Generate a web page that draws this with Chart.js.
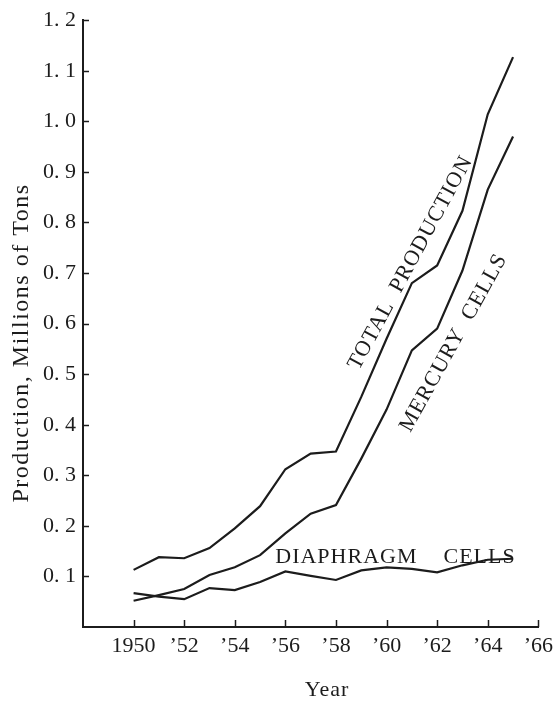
<!DOCTYPE html>
<html>
<head>
<meta charset="utf-8">
<script src="https://cdn.jsdelivr.net/npm/chart.js@4/dist/chart.umd.min.js"></script>
<style>
    html, body { margin: 0; padding: 0; background: #fff; }
    #wrap { width: 559px; height: 704px; position: relative; }
</style>
</head>
<body>
<div id="wrap"><canvas id="chart"></canvas></div>
<script>
// ─── DATA ─────────────────────────────────────────────────────────────────────
const years = [1950, 1951, 1952, 1953, 1954, 1955, 1956, 1957, 1958, 1959, 1960, 1961, 1962, 1963, 1964, 1965];
const totalProduction = [0.113, 0.138, 0.136, 0.156, 0.195, 0.239, 0.312, 0.343, 0.347, 0.455, 0.570, 0.680, 0.715, 0.823, 1.014, 1.127];
const mercuryCells = [0.052, 0.063, 0.075, 0.103, 0.118, 0.142, 0.185, 0.224, 0.241, 0.333, 0.430, 0.547, 0.590, 0.705, 0.865, 0.970];
const diaphragmCells = [0.067, 0.060, 0.055, 0.077, 0.073, 0.089, 0.110, 0.101, 0.093, 0.112, 0.118, 0.115, 0.108, 0.122, 0.133, 0.135];

const xTitle = 'Year';
const yTitle = 'Production, Millions of Tons';

// curve labels, anchored in data coordinates
const curveLabels = [
    { text: 'TOTAL  PRODUCTION', x: 1960.95, y: 0.72, angle: -61.6, align: 'center' },
    { text: 'MERCURY  CELLS', x: 1962.65, y: 0.562, angle: -61, align: 'center' },
    { text: 'DIAPHRAGM    CELLS', x: 1955.6, y: 0.126, angle: 0, align: 'left' }
];

// ─── STYLE ────────────────────────────────────────────────────────────────────
const ink = '#1c1c1c';
const serif = "'Liberation Serif', 'DejaVu Serif', serif";
Chart.defaults.font.family = serif;
Chart.defaults.color = ink;

const toPoints = vals => vals.map((v, i) => ({ x: years[i], y: v }));
const lineSet = vals => ({
    data: toPoints(vals),
    borderColor: ink,
    borderWidth: 2.2,
    pointRadius: 0,
    tension: 0,
    fill: false
});

// inward tick marks, curve labels and axis titles
const decorations = {
    id: 'decorations',
    afterDraw(chart) {
        const { ctx, chartArea: a, scales: { x, y } } = chart;
        ctx.save();
        ctx.strokeStyle = ink;
        ctx.lineWidth = 1.5;
        y.ticks.forEach(t => {
            if (t.value <= 0) return;
            const py = Math.round(y.getPixelForValue(t.value)) + 0.5;
            ctx.beginPath(); ctx.moveTo(a.left, py); ctx.lineTo(a.left + 6, py); ctx.stroke();
        });
        x.ticks.forEach(t => {
            if (t.value < 1950) return;
            const px = Math.round(x.getPixelForValue(t.value)) + 0.5;
            ctx.beginPath(); ctx.moveTo(px, a.bottom); ctx.lineTo(px, a.bottom - 7); ctx.stroke();
        });

        ctx.fillStyle = ink;
        ctx.font = '22px ' + serif;
        ctx.letterSpacing = '1px';
        curveLabels.forEach(l => {
            ctx.save();
            ctx.translate(x.getPixelForValue(l.x), y.getPixelForValue(l.y));
            ctx.rotate(l.angle * Math.PI / 180);
            ctx.textAlign = l.align;
            ctx.textBaseline = l.align === 'left' ? 'alphabetic' : 'middle';
            ctx.fillText(l.text, 0, 0);
            ctx.restore();
        });

        ctx.textAlign = 'center';
        ctx.textBaseline = 'middle';
        ctx.fillText(xTitle, 327, 690);

        ctx.save();
        ctx.font = '24px ' + serif;
        ctx.letterSpacing = '1.5px';
        ctx.translate(22, 343);
        ctx.rotate(-Math.PI / 2);
        ctx.fillText(yTitle, 0, 0);
        ctx.restore();
        ctx.restore();
    }
};

// ─── CHART ────────────────────────────────────────────────────────────────────
new Chart(document.getElementById('chart'), {
    type: 'line',
    data: {
        datasets: [lineSet(totalProduction), lineSet(mercuryCells), lineSet(diaphragmCells)]
    },
    options: {
        responsive: true,
        maintainAspectRatio: false,
        animation: false,
        layout: { padding: { top: 19, right: 17, left: 0, bottom: 0 } },
        plugins: { legend: { display: false }, tooltip: { enabled: false } },
        scales: {
            x: {
                type: 'linear',
                min: 1948,
                max: 1966,
                afterFit: s => { s.height = 77; },
                grid: { display: false, drawTicks: false },
                border: { display: true, color: ink, width: 2 },
                ticks: {
                    stepSize: 2,
                    padding: 6,
                    maxRotation: 0,
                    autoSkip: false,
                    font: { size: 22 },
                    callback: v => v < 1950 ? '' : (v === 1950 ? '1950' : '\u2019' + String(v).slice(2))
                }
            },
            y: {
                min: 0,
                max: 1.2,
                afterFit: s => { s.width = 83; },
                grid: { display: false, drawTicks: false },
                border: { display: true, color: ink, width: 2 },
                ticks: {
                    stepSize: 0.1,
                    padding: 7,
                    autoSkip: false,
                    font: { size: 22 },
                    callback: v => v <= 0 ? '' : v.toFixed(1).replace('.', '. ')
                }
            }
        }
    },
    plugins: [decorations]
});
</script>
</body>
</html>
